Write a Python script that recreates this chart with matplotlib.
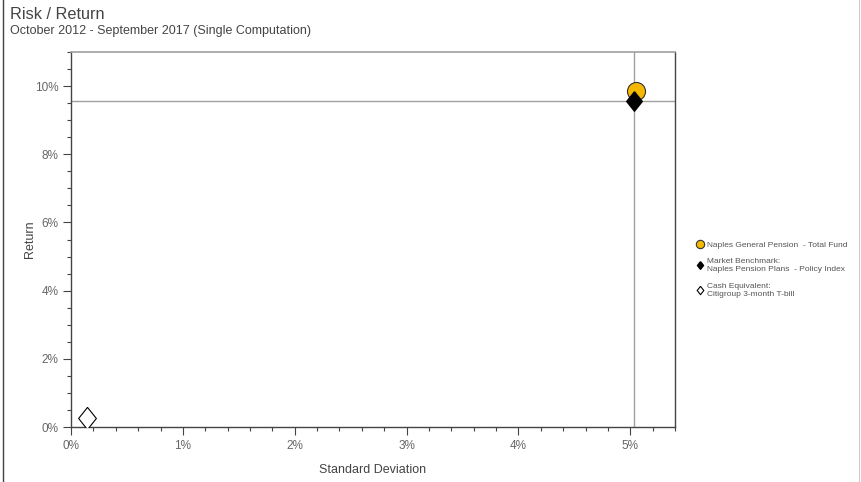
import matplotlib.pyplot as plt
from matplotlib.ticker import MultipleLocator, FuncFormatter
from matplotlib.lines import Line2D
from matplotlib.patches import Rectangle

plt.rcParams['font.family'] = ['Liberation Sans', 'DejaVu Sans']

# 데이터 (표준편차 %, 수익률 %)
names = ["Naples General Pension  - Total Fund",
         "Market Benchmark:\nNaples Pension Plans  - Policy Index",
         "Cash Equivalent:\nCitigroup 3-month T-bill"]
std_dev = [5.05, 5.03, 0.14]
returns = [9.85, 9.56, 0.26]

x_ticks = [0, 1, 2, 3, 4, 5]
y_ticks = [0, 2, 4, 6, 8, 10]

diamond = [(0, 1), (0.8, 0), (0, -1), (-0.8, 0), (0, 1)]

fig = plt.figure(figsize=(8.61, 4.82), dpi=100)
ax = fig.add_axes([0.0825, 0.1141, 0.7015, 0.7779])

# 기준선 (벤치마크 위치)
ax.axvline(std_dev[1], color="#a0a0a0", lw=1, zorder=1)
ax.axhline(returns[1], color="#a0a0a0", lw=1, zorder=1)

ax.plot(std_dev[0], returns[0], marker="o", ms=13, mfc="#f5b800", mec="#333333", mew=0.8, ls="none", zorder=3)
ax.plot(std_dev[1], returns[1], marker=diamond, ms=14, mfc="black", mec="black", ls="none", zorder=4)
ax.plot(std_dev[2], returns[2], marker=diamond, ms=16, mfc="white", mec="black", mew=0.8, ls="none", zorder=4)

ax.set_xlim(0, 5.4)
ax.set_ylim(0, 11)
ax.set_xticks(x_ticks)
ax.set_yticks(y_ticks)
ax.xaxis.set_minor_locator(MultipleLocator(0.2))
ax.yaxis.set_minor_locator(MultipleLocator(0.5))
pct = FuncFormatter(lambda v, p: "%d%%" % round(v))
ax.xaxis.set_major_formatter(pct)
ax.yaxis.set_major_formatter(pct)
ax.tick_params(which="major", length=6, width=0.8, color="#444444", labelsize=8.5, labelcolor="#666666", pad=3)
ax.tick_params(which="minor", length=3, width=0.8, color="#444444")

for s in ["left", "bottom", "right"]:
    ax.spines[s].set_color("#444444")
    ax.spines[s].set_linewidth(1)
ax.spines["top"].set_color("#a0a0a0")
ax.spines["top"].set_linewidth(1.2)

ax.set_xlabel("Standard Deviation", fontsize=9, color="#444444", labelpad=9)
ax.set_ylabel("Return", fontsize=9, color="#444444", labelpad=-1)

fig.text(0.0116, 0.970, "Risk / Return", fontsize=11.7, color="#444444", va="center")
fig.text(0.0116, 0.936, "October 2012 - September 2017 (Single Computation)", fontsize=9, color="#444444", va="center")

handles = [
    Line2D([], [], marker="o", ms=6, mfc="#f5b800", mec="#333333", mew=0.8, ls="none"),
    Line2D([], [], marker=diamond, ms=5.5, mfc="black", mec="black", ls="none"),
    Line2D([], [], marker=diamond, ms=6, mfc="white", mec="black", mew=0.8, ls="none"),
]
fig.legend(handles, names, loc="upper left", bbox_to_anchor=(0.806, 0.507), frameon=False,
           fontsize=6, labelcolor="#555555", handlelength=0.6, handletextpad=0.6,
           labelspacing=1.15, borderaxespad=0)

# 그림 테두리
fig.add_artist(Rectangle((0.003, -0.01), 0.995, 1.02, transform=fig.transFigure,
                         fill=False, lw=0.8, edgecolor="#cccccc"))
fig.add_artist(Line2D([0.003, 0.003], [0, 1], transform=fig.transFigure, color="#444444", lw=1))

fig.savefig("out.png", dpi=100)
